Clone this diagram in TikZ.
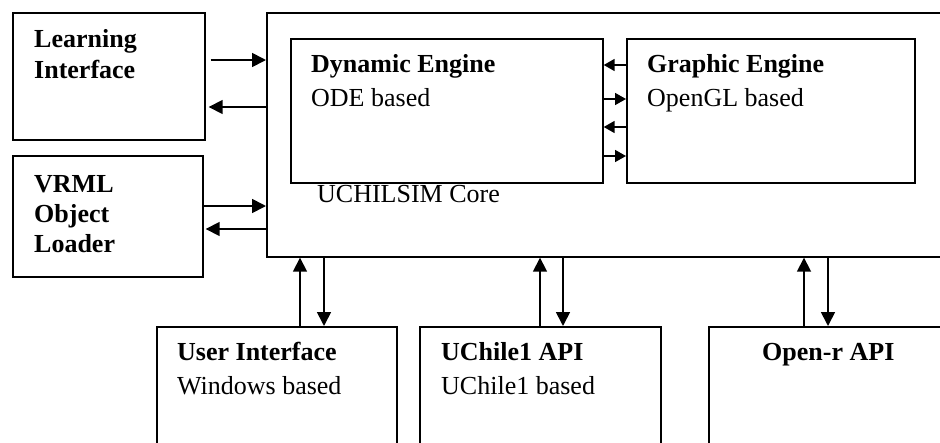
\documentclass[tikz,border=0pt]{standalone}
\usepackage{fontspec}
\setmainfont{Liberation Serif}
\usetikzlibrary{arrows.meta}
\begin{document}
\begin{tikzpicture}[x=1pt,y=-1pt,
  box/.style={draw=black, line width=1.7pt, rectangle, inner sep=0pt, anchor=north west},
  lbl/.style={anchor=base west, inner sep=0pt, font=\fontsize{26}{30}\selectfont},
  blbl/.style={lbl, font=\fontsize{26}{30}\selectfont\bfseries},
  arr/.style={line width=1.7pt, -{Triangle[length=14pt,width=14pt]}},
  sarr/.style={line width=1.7pt, -{Triangle[length=11pt,width=12pt]}}]
\clip (0,0) rectangle (940,442);
% boxes
\node[box, minimum width=192pt, minimum height=127pt] (learn) at (12,12) {};
\node[box, minimum width=190pt, minimum height=121pt] (vrml) at (12,155) {};
\node[box, minimum width=690pt, minimum height=244pt] (core) at (266,12) {};
\node[box, minimum width=312pt, minimum height=144pt] (dyn) at (290,38) {};
\node[box, minimum width=288pt, minimum height=144pt] (graph) at (626,38) {};
\node[box, minimum width=240pt, minimum height=140pt] (user) at (156,326) {};
\node[box, minimum width=241pt, minimum height=140pt] (uchile) at (419,326) {};
\node[box, minimum width=260pt, minimum height=140pt] (openr) at (708,326) {};
% texts
\node[blbl] (t1) at (34,47) {Learning};
\node[blbl] (t2) at (34,78) {Interface};
\node[blbl] (t3) at (34,192) {VRML};
\node[blbl] (t4) at (34,222) {Object};
\node[blbl] (t5) at (34,252) {Loader};
\node[blbl] (t6) at (311,72) {Dynamic Engine};
\node[lbl] (t7) at (311,106) {ODE based};
\node[blbl] (t8) at (647,72) {Graphic Engine};
\node[lbl] (t9) at (647,106) {OpenGL based};
\node[lbl] (t10) at (317,202) {UCHILSIM Core};
\node[blbl] (t11) at (177,360) {User Interface};
\node[lbl] (t12) at (177,394) {Windows based};
\node[blbl] (t13) at (441,360) {UChile1 API};
\node[lbl] (t14) at (441,394) {UChile1 based};
\node[blbl] (t15) at (762,360) {Open-r API};
% helper coordinates
\coordinate (h1) at (0,60);
\coordinate (h2) at (0,107);
\coordinate (h3) at (0,206);
\coordinate (h4) at (0,229);
\coordinate (g1) at (0,65);
\coordinate (g2) at (0,99);
\coordinate (g3) at (0,127);
\coordinate (g4) at (0,156);
\coordinate (v1) at (300,0);
\coordinate (v2) at (324,0);
\coordinate (v3) at (540,0);
\coordinate (v4) at (563,0);
\coordinate (v5) at (804,0);
\coordinate (v6) at (828,0);
% connectors
\draw[arr, shorten <=5pt] (learn.east |- h1) -- (core.west |- h1);
\draw[arr, shorten >=3pt] (core.west |- h2) -- (learn.east |- h2);
\draw[arr] (vrml.east |- h3) -- (core.west |- h3);
\draw[arr, shorten >=2pt] (core.west |- h4) -- (vrml.east |- h4);
\draw[sarr] (graph.west |- g1) -- (dyn.east |- g1);
\draw[sarr] (dyn.east |- g2) -- (graph.west |- g2);
\draw[sarr] (graph.west |- g3) -- (dyn.east |- g3);
\draw[sarr] (dyn.east |- g4) -- (graph.west |- g4);
\draw[arr] (user.north -| v1) -- (core.south -| v1);
\draw[arr] (core.south -| v2) -- (user.north -| v2);
\draw[arr] (uchile.north -| v3) -- (core.south -| v3);
\draw[arr] (core.south -| v4) -- (uchile.north -| v4);
\draw[arr] (openr.north -| v5) -- (core.south -| v5);
\draw[arr] (core.south -| v6) -- (openr.north -| v6);
\end{tikzpicture}
\end{document}
